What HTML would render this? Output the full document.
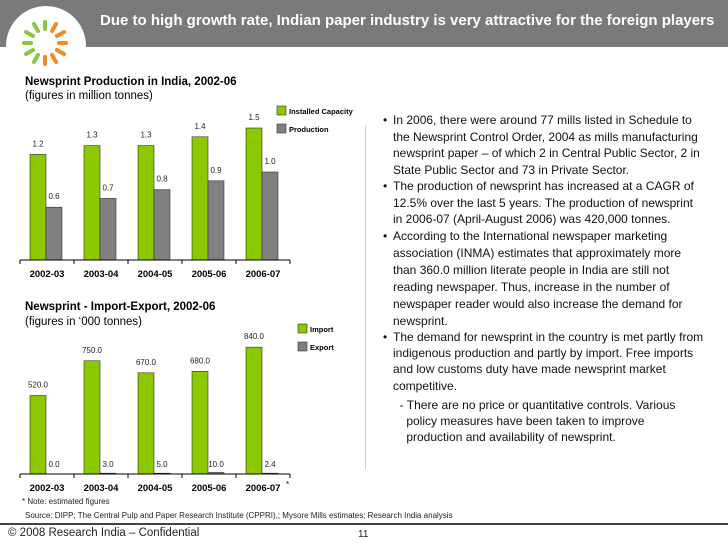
<!DOCTYPE html>
<html><head><meta charset="utf-8"><style>
body{margin:0;width:728px;height:546px;position:relative;overflow:hidden;background:#fff;font-family:"Liberation Sans",Arial,sans-serif;color:#000}
.abs{position:absolute;white-space:nowrap}
.tl{font-size:12px;line-height:14px;color:#111}
</style></head><body>
<div class="abs" style="left:0;top:0;width:728px;height:47px;background:#7a7a7a"></div>
<div class="abs" style="left:6px;top:6px;width:80px;height:80px;border-radius:50%;background:#fff"></div>
<svg class="abs" style="left:22px;top:20px" width="46" height="46" viewBox="0 0 46 46">
<g stroke-width="4" stroke-linecap="round">
<line x1="23" y1="9" x2="23" y2="2" stroke="#8cc63f"/><line x1="16" y1="11" x2="12" y2="4" stroke="#8cc63f"/>
<line x1="11" y1="16" x2="4" y2="12" stroke="#8cc63f"/><line x1="9" y1="23" x2="2" y2="23" stroke="#8cc63f"/>
<line x1="11" y1="30" x2="4" y2="34" stroke="#8cc63f"/><line x1="16" y1="35" x2="12" y2="42" stroke="#8cc63f"/>
<line x1="30" y1="11" x2="34" y2="4" stroke="#f08a24"/><line x1="35" y1="16" x2="42" y2="12" stroke="#f08a24"/>
<line x1="37" y1="23" x2="44" y2="23" stroke="#f08a24"/><line x1="35" y1="30" x2="42" y2="34" stroke="#f08a24"/>
<line x1="30" y1="35" x2="34" y2="42" stroke="#f08a24"/><line x1="23" y1="37" x2="23" y2="44" stroke="#f08a24"/>
</g></svg>
<div class="abs" style="left:100px;top:12px;font-size:15px;font-weight:bold;color:#fff">Due to high growth rate, Indian paper industry is very attractive for the foreign players</div>

<div class="abs" style="left:25px;top:76px;font-size:11.5px;font-weight:bold">Newsprint Production in India, 2002-06</div>
<div class="abs" style="left:25px;top:90px;font-size:11.5px">(figures in million tonnes)</div>
<svg class="abs" id="c1" style="left:0;top:0" width="364" height="290"></svg>

<div class="abs" style="left:25px;top:301px;font-size:11.5px;font-weight:bold">Newsprint - Import-Export, 2002-06</div>
<div class="abs" style="left:25px;top:316px;font-size:11.5px">(figures in ‘000 tonnes)</div>
<svg class="abs" id="c2" style="left:0;top:290px" width="364" height="210"></svg>

<div class="abs" style="left:22px;top:497px;font-size:8px;color:#222">* Note: estimated figures</div>
<div class="abs" style="left:25px;top:511px;font-size:8px;color:#222">Source: DIPP; The Central Pulp and Paper Research Institute (CPPRI),; Mysore Mills estimates; Research India analysis</div>
<div class="abs" style="left:0;top:523px;width:728px;height:2px;background:#444"></div>
<div class="abs" style="left:8px;top:527px;font-size:11.5px;color:#222">© 2008 Research India – Confidential</div>
<div class="abs" style="left:358px;top:529px;font-size:10px;color:#222">11</div>
<div class="abs" style="left:365px;top:125px;width:1px;height:345px;background:#c8e08a"></div>

<div id="txt"></div>

<script>
const cats1 = ["2002-03","2003-04","2004-05","2005-06","2006-07"];
const capacity = [1.2,1.3,1.3,1.4,1.5];
const production = [0.6,0.7,0.8,0.9,1.0];
const cats2 = ["2002-03","2003-04","2004-05","2005-06","2006-07"];
const imports = [520,750,670,680,840];
const exportsV = [0.0,3.0,5.0,10.0,2.4];

const NS="http://www.w3.org/2000/svg";
function mk(svg,tag,attrs,text){const e=document.createElementNS(NS,tag);for(const k in attrs)e.setAttribute(k,attrs[k]);if(text!==undefined)e.textContent=text;svg.appendChild(e);return e;}
const GREEN="#8cc800", GRAY="#808080";
function chart(svg,cats,a,b,base,scale,dec,legend,legY,starIdx){
  const x0=20,step=54;
  const xb=i=>x0+i*step+10;
  const y=v=>base-v*scale;
  cats.forEach((c,i)=>{
    let r=mk(svg,'rect',{x:xb(i),y:y(a[i]),width:16,height:a[i]*scale,fill:GREEN,stroke:"#333","stroke-width":0.6});
    
    
    let t=mk(svg,'text',{x:xb(i)+8,y:y(a[i])-8,"font-size":8,"text-anchor":"middle",fill:"#222"},a[i].toFixed(1));
    
    
    let hb=Math.max(b[i]*scale,b[i]>0?0.8:0);
    let r2=mk(svg,'rect',{x:xb(i)+16,y:base-hb,width:16,height:hb,fill:GRAY,stroke:"#333","stroke-width":0.6});
    
    
    let ly=dec?base-b[i]*scale-8:base-7;
    let t2=mk(svg,'text',{x:xb(i)+24,y:ly,"font-size":8,"text-anchor":"middle",fill:"#222"},b[i].toFixed(1));
    
    
    let cl=mk(svg,'text',{x:x0+i*step+27,y:base+17,"font-size":9.5,"font-weight":"bold","text-anchor":"middle"},c);
    
    
    if(i===starIdx){let s=mk(svg,'text',{x:x0+i*step+50,y:base+13,"font-size":8},"*");}
  });
  let ax=mk(svg,'line',{x1:x0,y1:base,x2:x0+5*step,y2:base,stroke:"#000","stroke-width":1});
  
  
  for(let i=0;i<=5;i++){let tk=mk(svg,'line',{x1:x0+i*step,y1:base,x2:x0+i*step,y2:base+4,stroke:"#000"});}
  legend.forEach((l,k)=>{
    let sq=mk(svg,'rect',{x:legend.lx,y:legY+k*18,width:9,height:9,fill:k?GRAY:GREEN,stroke:"#333","stroke-width":0.6});
    
    
    let lt=mk(svg,'text',{x:legend.lx+12,y:legY+k*18+8,"font-size":7.5,"font-weight":"bold"},l);
    
    
  });
}
const L1=["Installed Capacity","Production"];L1.lx=277;
chart(document.getElementById('c1'),cats1,capacity,production,260,88,true,L1,106,-1);
const L2=["Import","Export"];L2.lx=298;
chart(document.getElementById('c2'),cats2,imports,exportsV,184,0.151,false,L2,34,4);

const lines=[
[120,"• ","In 2006, there were around 77 mills listed in Schedule to"],
[137,"","the Newsprint Control Order, 2004 as mills manufacturing"],
[153,"","newsprint paper – of which 2 in Central Public Sector, 2 in"],
[170,"","State Public Sector and 73 in Private Sector."],
[186,"• ","The production of newsprint has increased at a CAGR of"],
[203,"","12.5% over the last 5 years. The production of newsprint"],
[219,"","in 2006-07 (April-August 2006) was 420,000 tonnes."],
[236,"• ","According to the International newspaper marketing"],
[253,"","association (INMA) estimates that approximately more"],
[270,"","than 360.0 million literate people in India are still not"],
[287,"","reading newspaper. Thus, increase in the number of"],
[304,"","newspaper reader would also increase the demand for"],
[321,"","newsprint."],
[337,"• ","The demand for newsprint in the country is met partly from"],
[353,"","indigenous production and partly by import. Free imports"],
[369,"","and low customs duty have made newsprint market"],
[386,"","competitive."],
[405,"","  - There are no price or quantitative controls. Various"],
[421,"","    policy measures have been taken to improve"],
[437,"","    production and availability of newsprint."]];
const box=document.getElementById('txt');
lines.forEach(([yy,b,t])=>{
  if(b){const d=document.createElement('div');d.className='abs tl';d.style.left='383px';d.style.top=(yy-7)+'px';d.textContent='•';
    
    
    box.appendChild(d);}
  const d=document.createElement('div');d.className='abs tl';d.style.left='393px';d.style.top=(yy-7)+'px';d.style.whiteSpace='pre';d.textContent=t;
  
  
  box.appendChild(d);
});
</script>
</body></html>
